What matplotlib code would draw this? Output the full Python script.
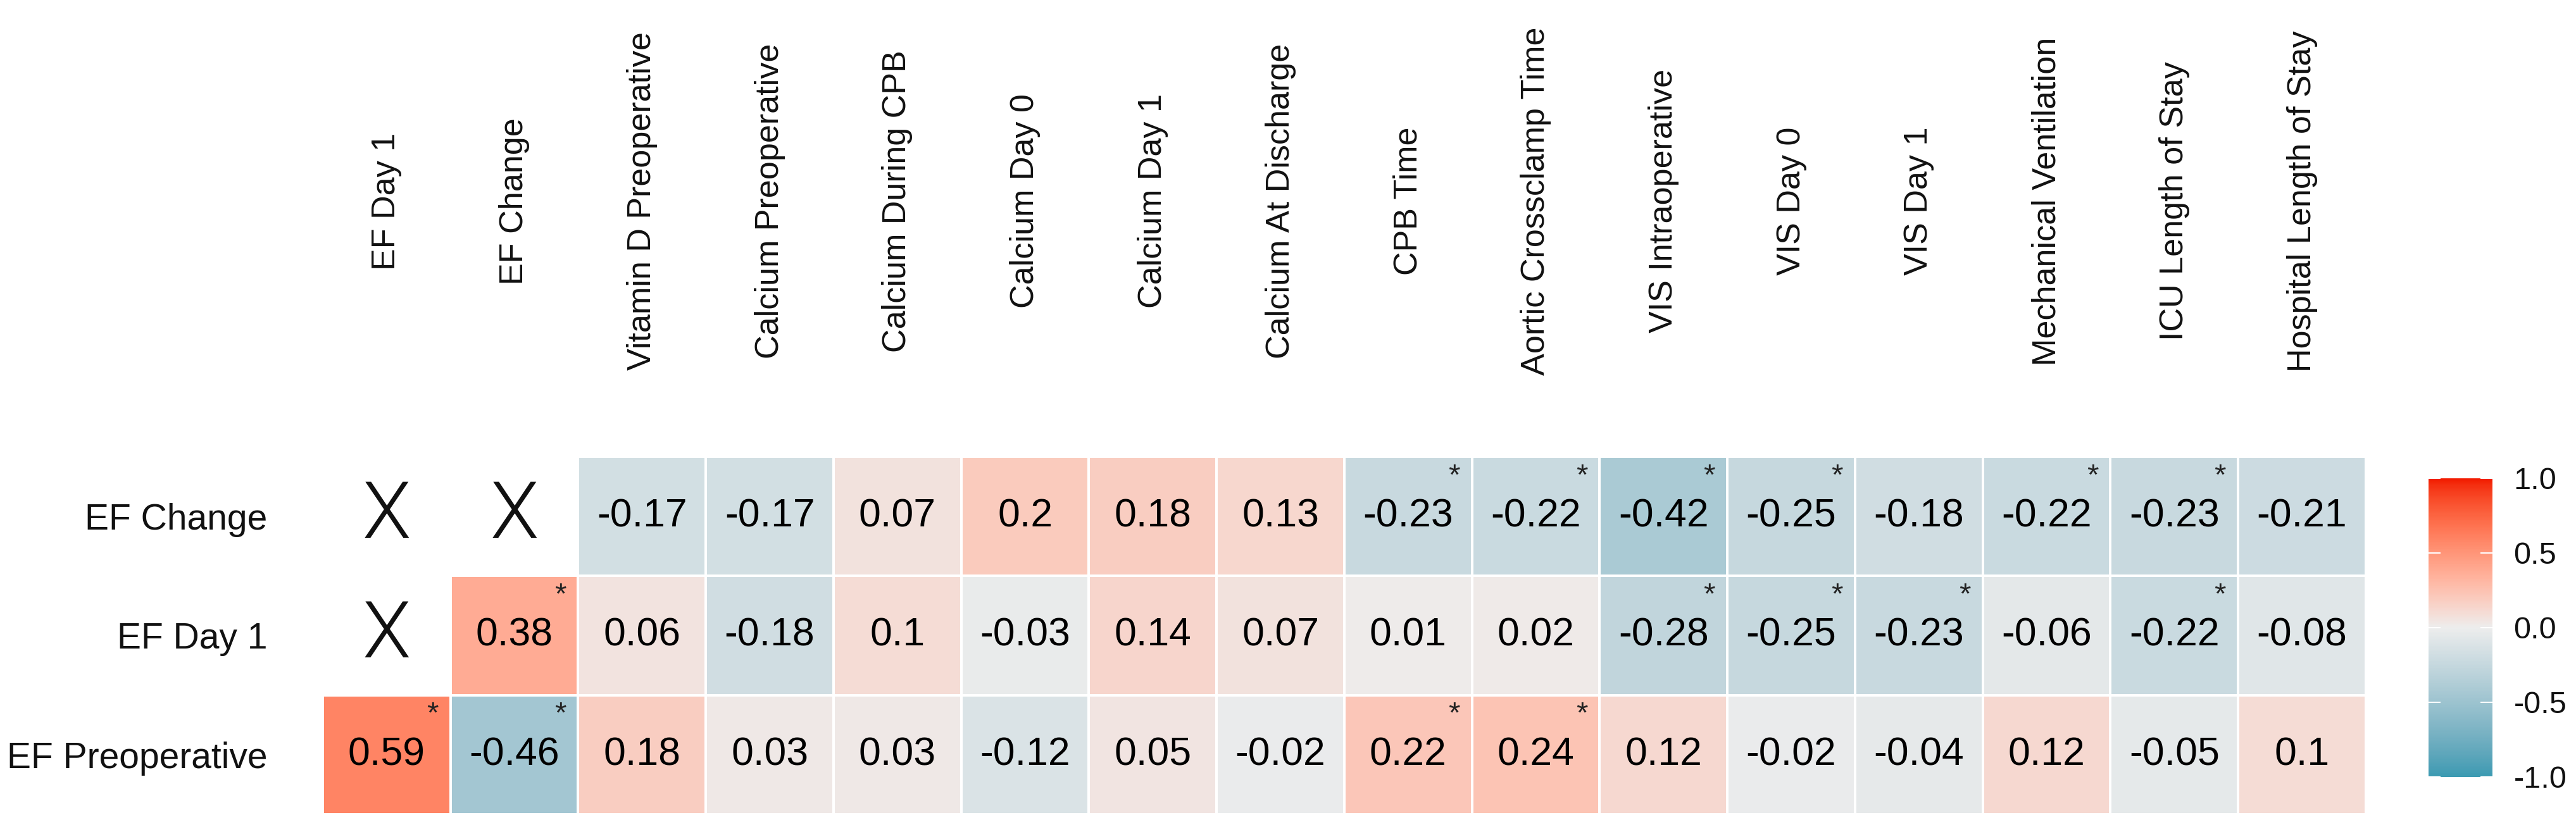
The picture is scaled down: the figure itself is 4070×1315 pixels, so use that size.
import numpy as np
import matplotlib
matplotlib.use("Agg")
import matplotlib.pyplot as plt
from matplotlib.colors import ListedColormap, to_rgb

plt.rcParams['font.family'] = ['Liberation Sans', 'DejaVu Sans']
plt.rcParams['axes.unicode_minus'] = False

# rows from bottom to top
row_labels = ["EF Preoperative", "EF Day 1", "EF Change"]
col_labels = ["EF Day 1", "EF Change", "Vitamin D Preoperative", "Calcium Preoperative",
              "Calcium During CPB", "Calcium Day 0", "Calcium Day 1", "Calcium At Discharge",
              "CPB Time", "Aortic Crossclamp Time", "VIS Intraoperative", "VIS Day 0",
              "VIS Day 1", "Mechanical Ventilation", "ICU Length of Stay",
              "Hospital Length of Stay"]

nan = np.nan
ef_preop = [0.59, -0.46, 0.18, 0.03, 0.03, -0.12, 0.05, -0.02, 0.22, 0.24, 0.12, -0.02, -0.04, 0.12, -0.05, 0.1]
ef_day1 = [nan, 0.38, 0.06, -0.18, 0.1, -0.03, 0.14, 0.07, 0.01, 0.02, -0.28, -0.25, -0.23, -0.06, -0.22, -0.08]
ef_change = [nan, nan, -0.17, -0.17, 0.07, 0.2, 0.18, 0.13, -0.23, -0.22, -0.42, -0.25, -0.18, -0.22, -0.23, -0.21]

# significance flags (p < 0.05)
sig_preop = [1, 1, 0, 0, 0, 0, 0, 0, 1, 1, 0, 0, 0, 0, 0, 0]
sig_day1 = [0, 1, 0, 0, 0, 0, 0, 0, 0, 0, 1, 1, 1, 0, 1, 0]
sig_change = [0, 0, 0, 0, 0, 0, 0, 0, 1, 1, 1, 1, 0, 1, 1, 0]

low_col, mid_col, high_col = "#3B9AB2", "#EDEDED", "#F21A00"

# --- Lab interpolation like ggplot's scale_fill_gradient2 ---
M = np.array([[0.4124, 0.3576, 0.1805],
              [0.2126, 0.7152, 0.0722],
              [0.0193, 0.1192, 0.9505]])
Minv = np.linalg.inv(M)
WHITE = np.array([0.95047, 1.0, 1.08883])
D = 6 / 29


def to_lab(c):
    rgb = np.array(to_rgb(c))
    lin = np.where(rgb <= 0.04045, rgb / 12.92, ((rgb + 0.055) / 1.055) ** 2.4)
    f = (M @ lin) / WHITE
    f = np.where(f > D ** 3, np.cbrt(f), f / (3 * D ** 2) + 4 / 29)
    return np.array([116 * f[1] - 16, 500 * (f[0] - f[1]), 200 * (f[1] - f[2])])


def from_lab(lab):
    fy = (lab[0] + 16) / 116
    f = np.array([fy + lab[1] / 500, fy, fy - lab[2] / 200])
    xyz = np.where(f > D, f ** 3, 3 * D ** 2 * (f - 4 / 29)) * WHITE
    lin = np.clip(Minv @ xyz, 0, 1)
    rgb = np.where(lin <= 0.0031308, 12.92 * lin, 1.055 * lin ** (1 / 2.4) - 0.055)
    return np.clip(rgb, 0, 1)


lo, mi, hi = to_lab(low_col), to_lab(mid_col), to_lab(high_col)
colors = []
for t in np.linspace(-1, 1, 256):
    if t < 0:
        colors.append(from_lab(mi + (lo - mi) * (-t)))
    else:
        colors.append(from_lab(mi + (hi - mi) * t))
cmap = ListedColormap(colors)

values = np.array([ef_preop, ef_day1, ef_change])
sig = np.array([sig_preop, sig_day1, sig_change])
Z = np.ma.masked_invalid(values)

fig = plt.figure(figsize=(40.7, 13.15), dpi=100)
ax = fig.add_axes([0.1253, 0.0213, 0.7931, 0.4297])
mesh = ax.pcolormesh(np.arange(len(col_labels) + 1), np.arange(len(row_labels) + 1), Z,
                     cmap=cmap, vmin=-1, vmax=1, edgecolors="white", linewidth=1.5)
ax.set_xlim(0, len(col_labels))
ax.set_ylim(0, len(row_labels))
for s in ax.spines.values():
    s.set_visible(False)
ax.set_xticks([])
ax.set_yticks(np.arange(len(row_labels)) + 0.5)
ax.set_yticklabels(row_labels, fontsize=41, color="#111111")
ax.tick_params(axis="y", length=0, pad=63)

# cell texts
for r in range(len(row_labels)):
    for c in range(len(col_labels)):
        v = values[r, c]
        if np.isnan(v):
            ax.text(c + 0.5, r + 0.5, "X", ha="center", va="center", fontsize=90,
                    family=["Roboto", "Liberation Sans"], fontweight=300,
                    color="#111111")
            continue
        ax.text(c + 0.5, r + 0.5, f"{v:g}", ha="center", va="center", fontsize=45,
                color="black")
        if sig[r, c]:
            ax.text(c + 0.86, r + 0.95, "*", ha="center", va="top", fontsize=34,
                    color="#222222")

# column labels on top, rotated
for c, lab in enumerate(col_labels):
    ax.text(c + 0.5, 1.715, lab, rotation=90, ha="center", va="center", fontsize=37.5,
            color="#111111", transform=ax.get_xaxis_transform())

# colorbar
cax = fig.add_axes([0.9428, 0.0662, 0.0248, 0.3589])
cb = fig.colorbar(mesh, cax=cax, ticks=[-1, -0.5, 0, 0.5, 1])
cb.outline.set_visible(False)
cb.set_ticklabels(["-1.0", "-0.5", "0.0", "0.5", "1.0"])
cax.tick_params(axis="y", direction="in", left=True, right=True, color="white",
                length=14, width=1.5, labelsize=35, pad=24, labelcolor="#111111")

fig.savefig("out.png", dpi=100, facecolor="white")
